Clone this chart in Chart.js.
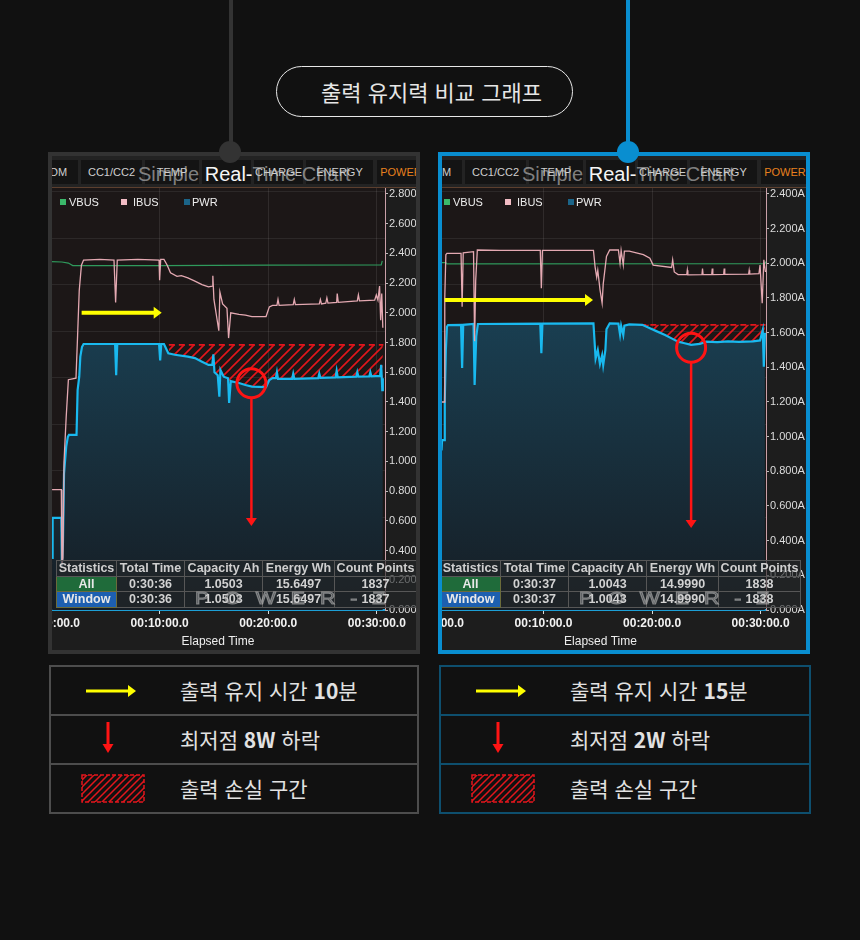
<!DOCTYPE html>
<html lang="ko"><head><meta charset="utf-8">
<script src="https://cdn.jsdelivr.net/npm/chart.js@4.4.1/dist/chart.umd.min.js"></script>
<style>
*{box-sizing:border-box}
html,body{margin:0;padding:0}
body{background:#111;width:860px;height:940px;position:relative;overflow:hidden;font-family:'Liberation Sans',Arial,sans-serif;}
.a{position:absolute}
.pill{left:276px;top:66px;width:297px;height:51px;border:1.5px solid #e8e8e8;border-radius:26px;color:#e6e6e6;font-family:'Noto Sans CJK KR',sans-serif;font-size:22px;line-height:48px;text-align:center;padding-left:14px;white-space:nowrap}
.vline{top:0;width:4px;height:152px}
.dot{width:22px;height:22px;border-radius:50%;top:141px;z-index:5}
.panel{top:152px;width:372px;height:502px;border-style:solid;border-width:4px}
.inner{position:absolute;left:0;top:0;right:0;bottom:0;overflow:hidden;background:#1d1d1d}
.tabbar{left:0;top:0;width:100%;height:32px;background:#232323;border-bottom:1px solid #5c3f2e}
.x0{top:0;height:100%;width:420px}
.tab{top:4px;height:24px;background:#141414;color:#cfcfcf;font-size:11px;line-height:24px;text-align:center;white-space:nowrap;overflow:visible}
.ttl{top:8px;font-size:20px;line-height:20px;white-space:nowrap;z-index:3}
.chartbox{left:0;top:32px;height:462px}
.lg{top:40px;height:12px;font-size:11px;line-height:12px;color:#eee;white-space:nowrap;z-index:3}
.sw{top:43px;width:6px;height:6px;z-index:3}
table.st{position:absolute;top:404px;border-collapse:collapse;z-index:3;table-layout:fixed}
table.st td{border:1px solid #575757;padding:0;font-weight:bold;font-size:12.5px;color:#d2d2d2;text-align:center;height:15.5px;line-height:14px;background:rgba(36,38,40,0.62);white-space:nowrap;overflow:hidden}
.wm{top:433px;font-size:17px;line-height:20px;letter-spacing:12px;color:rgba(170,170,170,0.28);-webkit-text-stroke:1px rgba(200,200,200,0.55);font-weight:normal;z-index:4;white-space:nowrap;transform:scaleX(1.25);transform-origin:left center}
.box{top:665px;height:149px;border-style:solid;border-width:2px}
.row{position:absolute;left:0;width:100%;height:47px}
.row .tx{position:absolute;left:129px;top:0;line-height:47px;font-family:'Noto Sans CJK KR',sans-serif;font-size:21px;color:#e2e2e2;white-space:nowrap}
.row .tx b{font-weight:700}
.row svg{position:absolute}
</style></head><body>

<div class="a vline" style="left:229px;background:#333"></div>
<div class="a dot" style="left:219px;background:#333"></div>
<div class="a vline" style="left:626px;background:#098ed0"></div>
<div class="a dot" style="left:617px;background:#098ed0"></div>

<div class="a pill">출력 유지력 비교 그래프</div>

<div class="a panel" style="left:48px;border-color:#333">
  <div class="inner">
    <div class="a tabbar"></div>
    <div class="a x0" id="x0L" style="left:-1px">
      <div class="a chartbox" style="width:365px"><canvas id="cL"></canvas></div>
    </div>
  </div>
</div>

<div class="a panel" style="left:438px;border-color:#098ed0">
  <div class="inner">
    <div class="a tabbar"></div>
    <div class="a x0" id="x0R" style="left:-7px">
      <div class="a chartbox" style="width:371px"><canvas id="cR"></canvas></div>
    </div>
  </div>
</div>

<div class="a box" id="boxL" style="left:49px;width:370px;border-color:#4d4d4d"></div>
<div class="a box" id="boxR" style="left:439px;width:372px;border-color:#0e4f6e"></div>

<script>
// ---------- axis ticks ----------
const xTickValues = [0, 10, 20, 30];
const xTickLabels = ['00:00:00.0', '00:10:00.0', '00:20:00.0', '00:30:00.0'];
const leftYTicks = [0, 0.2, 0.4, 0.6, 0.8, 1.0, 1.2, 1.4, 1.6, 1.8, 2.0, 2.2, 2.4, 2.6, 2.8];
const rightYTicks = [0, 0.2, 0.4, 0.6, 0.8, 1.0, 1.2, 1.4, 1.6, 1.8, 2.0, 2.2, 2.4];
const gridTicks = [5, 10, 15, 20, 25, 30, 35, 40, 45];
const seriesNames = ['VBUS', 'IBUS', 'PWR'];
const tabLabels = ['DM', 'CC1/CC2', 'TEMP', '', 'CHARGE', 'ENERGY', 'POWER'];
const statHeaders = ['Statistics', 'Total Time', 'Capacity Ah', 'Energy Wh', 'Count Points'];
const statRowNames = ['All', 'Window'];

// ---------- left chart series [minutes, value] ----------
const leftVBUS = [[0,2.345],[1.0,2.342],[1.6,2.335],[2.0,2.318],[10,2.318],[20,2.321],[30.4,2.322],[30.5,2.35]];
const leftIBUS = [[0.1,0.81],[0.95,0.81],[1.0,0.3],[1.1,0.35],[1.2,1.0],[1.4,1.3],[1.6,1.55],[2.3,1.56],[2.45,1.85],[2.6,2.15],[2.8,2.32],[3.0,2.355],[4.5,2.36],[5.8,2.355],[5.95,2.07],[6.1,2.355],[8,2.36],[9.95,2.355],[10.0,2.22],[10.1,2.36],[10.4,2.36],[10.7,2.32],[11.0,2.27],[11.6,2.245],[12.0,2.25],[12.6,2.235],[13.2,2.215],[13.9,2.19],[14.5,2.175],[14.85,2.18],[14.9,2.25],[15.0,2.09],[15.3,1.95],[15.45,1.88],[15.55,2.14],[15.8,2.06],[16.2,2.03],[16.35,1.83],[16.55,2.0],[17.3,1.99],[17.9,1.985],[18.5,1.975],[19.8,1.975],[20.1,2.04],[20.4,2.05],[20.8,2.05],[20.9,2.09],[21.0,2.05],[22.3,2.055],[22.4,2.09],[22.5,2.055],[24.7,2.06],[24.8,2.09],[24.9,2.06],[25.3,2.065],[25.4,2.1],[25.5,2.065],[26.3,2.07],[26.35,2.13],[26.45,2.07],[28.2,2.08],[28.3,2.12],[28.4,2.08],[29.8,2.085],[29.95,2.12],[30.1,2.085],[30.25,2.18],[30.35,1.95],[30.45,2.13],[30.55,1.9]];
const leftPWR = [[0.1,0.35],[0.15,0.62],[0.95,0.62],[1.0,0.3],[1.1,0.45],[1.2,0.92],[1.4,1.10],[1.55,1.165],[1.65,1.178],[2.35,1.178],[2.45,1.48],[2.6,1.57],[2.7,1.705],[2.85,1.77],[3.0,1.79],[5.9,1.79],[6.0,1.58],[6.1,1.79],[9.95,1.79],[10.05,1.68],[10.15,1.79],[10.4,1.79],[10.8,1.728],[11.4,1.718],[12.6,1.705],[13.25,1.695],[13.9,1.671],[14.5,1.649],[14.85,1.65],[14.95,1.72],[15.05,1.6],[15.35,1.58],[15.5,1.436],[15.6,1.615],[15.9,1.57],[16.3,1.56],[16.4,1.393],[16.55,1.54],[17.3,1.528],[17.9,1.514],[18.5,1.503],[19.8,1.5],[20.1,1.548],[20.4,1.561],[20.7,1.56],[20.8,1.6],[20.9,1.555],[22.2,1.555],[22.3,1.59],[22.4,1.556],[24.6,1.56],[24.7,1.59],[24.8,1.562],[26.2,1.565],[26.3,1.61],[26.4,1.566],[28.1,1.57],[28.2,1.6],[28.3,1.57],[29.3,1.572],[29.4,1.6],[29.5,1.573],[30.3,1.575],[30.4,1.65],[30.5,1.48],[30.55,1.56]];
const leftLoss = [[10.85,1.784],[30.6,1.784]];
const leftYellowArrow = [2.82, 10.19, 2.0];
const leftLowPoint = [18.45, 1.526];
const leftDropTip = 0.565;
const leftStats = [['0:30:36','1.0503','15.6497','1837'],['0:30:36','1.0503','15.6497','1837']];
const leftNotes = [['출력 유지 시간 ','10','분'],['최저점 ','8W',' 하락'],['출력 손실 구간','','']];

// ---------- right chart series ----------
const rightVBUS = [[0.55,2.004],[1.0,2.004],[1.1,1.997],[30.4,1.998],[30.5,2.01]];
const rightIBUS = [[0.6,1.2],[0.85,1.2],[0.9,1.8],[1.0,2.05],[1.1,2.058],[2.4,2.058],[2.5,1.75],[2.6,2.06],[3.55,2.067],[3.65,1.55],[3.75,1.9],[3.9,2.077],[6,2.075],[9.7,2.075],[9.8,1.856],[9.9,2.075],[14.6,2.075],[14.75,1.98],[14.9,1.92],[15.0,1.96],[15.2,1.85],[15.4,1.77],[15.5,1.88],[15.8,2.04],[16.1,2.077],[16.9,2.077],[17.05,2.0],[17.15,2.075],[17.35,1.99],[17.45,2.07],[17.9,2.07],[19.2,2.05],[19.8,2.03],[20.1,1.99],[21.8,1.976],[21.9,2.02],[22.05,1.95],[22.4,1.935],[23.2,1.935],[23.25,1.96],[23.3,1.933],[24.6,1.935],[24.65,1.97],[24.7,1.935],[25.5,1.935],[25.55,1.97],[25.6,1.935],[26.6,1.936],[26.65,1.97],[26.7,1.936],[28.9,1.938],[28.95,1.96],[29.0,1.938],[29.85,1.94],[29.95,1.99],[30.15,1.77],[30.3,2.02],[30.45,1.95]];
const rightPWR = [[0.6,0.92],[0.65,0.98],[0.85,0.98],[0.9,1.21],[1.0,1.5],[1.1,1.634],[1.2,1.644],[2.4,1.645],[2.5,1.396],[2.6,1.645],[3.55,1.65],[3.65,1.298],[3.8,1.577],[3.95,1.65],[9.7,1.652],[9.8,1.481],[9.9,1.652],[14.6,1.654],[14.8,1.45],[15.0,1.5],[15.2,1.42],[15.4,1.47],[15.5,1.413],[15.7,1.5],[15.8,1.62],[16.1,1.654],[16.9,1.652],[17.05,1.59],[17.15,1.64],[17.35,1.587],[17.45,1.64],[17.9,1.648],[19.1,1.645],[19.8,1.625],[20.5,1.606],[21.2,1.587],[21.8,1.567],[22.4,1.548],[23.0,1.539],[23.6,1.53],[24.4,1.535],[25.0,1.548],[26.0,1.545],[27.0,1.55],[28.0,1.547],[29.3,1.55],[29.95,1.555],[30.2,1.615],[30.3,1.404],[30.4,1.6]];
const rightLoss = [[18.0,1.645],[30.45,1.645]];
const rightYellowArrow = [0.89, 14.56, 1.788];
const rightLowPoint = [23.6, 1.513];
const rightDropTip = 0.473;
const rightStats = [['0:30:37','1.0043','14.9990','1838'],['0:30:37','1.0043','14.9990','1838']];
const rightNotes = [['출력 유지 시간 ','15','분'],['최저점 ','2W',' 하락'],['출력 손실 구간','','']];

// ---------- styles ----------
const FONT = "'Liberation Sans', Arial, sans-serif";
Chart.defaults.font.family = FONT;
const lineColors = ['#2f9a5c', '#e4a9b2', '#19b9ef'];
const swatchColors = ['#3bb86a', '#f2bcc4', '#1b6488'];

function pts(a){ return a.map(p => ({x: p[0], y: p[1]})); }

function makeHatch(){
  const c = document.createElement('canvas'); c.width = 10; c.height = 10;
  const g = c.getContext('2d');
  g.strokeStyle = '#e3161c'; g.lineWidth = 1.6;
  g.beginPath();
  g.moveTo(0,10); g.lineTo(10,0);
  g.moveTo(-2,2); g.lineTo(2,-2);
  g.moveTo(8,12); g.lineTo(12,8);
  g.stroke();
  return g.createPattern(c, 'repeat');
}
const hatch = makeHatch();

function pwrFill(ctx){
  const ch = ctx.chart, a = ch.chartArea;
  if (!a) return 'rgba(25,60,78,1)';
  const g = ch.ctx.createLinearGradient(0, a.top, 0, a.bottom);
  g.addColorStop(0, '#1b4e66');
  g.addColorStop(1, '#161d24');
  return g;
}

const plotBg = {
  id: 'plotBg',
  beforeDraw(chart){
    const {ctx, chartArea: a} = chart;
    ctx.save(); ctx.fillStyle = '#1c1717';
    ctx.fillRect(a.left, a.top, a.right - a.left, a.bottom - a.top);
    ctx.restore();
  }
};

const annot = {
  id: 'annot',
  afterDatasetsDraw(chart, args, o){
    const {ctx} = chart, x = chart.scales.x, y = chart.scales.y;
    ctx.save();
    const ax0 = x.getPixelForValue(o.arrow[0]), ax1 = x.getPixelForValue(o.arrow[1]), ay = y.getPixelForValue(o.arrow[2]);
    ctx.strokeStyle = '#ffff00'; ctx.fillStyle = '#ffff00'; ctx.lineWidth = 4;
    ctx.beginPath(); ctx.moveTo(ax0, ay); ctx.lineTo(ax1 - 6, ay); ctx.stroke();
    ctx.beginPath(); ctx.moveTo(ax1, ay); ctx.lineTo(ax1 - 8, ay - 6); ctx.lineTo(ax1 - 8, ay + 6); ctx.closePath(); ctx.fill();
    const cx = x.getPixelForValue(o.low[0]), cy = y.getPixelForValue(o.low[1]);
    const r = 14.5;
    ctx.strokeStyle = '#ff1414'; ctx.fillStyle = '#ff1414'; ctx.lineWidth = 3;
    ctx.beginPath(); ctx.arc(cx, cy, r, 0, Math.PI * 2); ctx.stroke();
    const tip = y.getPixelForValue(o.tip);
    ctx.lineWidth = 2.5;
    ctx.beginPath(); ctx.moveTo(cx, cy + r); ctx.lineTo(cx, tip - 6); ctx.stroke();
    ctx.beginPath(); ctx.moveTo(cx, tip); ctx.lineTo(cx - 5.5, tip - 8); ctx.lineTo(cx + 5.5, tip - 8); ctx.closePath(); ctx.fill();
    ctx.restore();
  }
};

function buildChart(id, cfg){
  return new Chart(document.getElementById(id), {
    type: 'line',
    data: { datasets: [
      {label: seriesNames[0], data: pts(cfg.vbus), borderColor: lineColors[0], borderWidth: 1.2, order: 2, fill: false},
      {label: seriesNames[1], data: pts(cfg.ibus), borderColor: lineColors[1], borderWidth: 1.3, order: 1, fill: false},
      {label: seriesNames[2], data: pts(cfg.pwr), borderColor: lineColors[2], borderWidth: 2.2, order: 3, fill: 'origin', backgroundColor: pwrFill},
      {label: 'loss', data: pts(cfg.loss), borderColor: '#e3161c', borderWidth: 1.6, borderDash: [6, 4], order: 4,
       fill: {target: 2, above: hatch, below: 'rgba(0,0,0,0)'}}
    ]},
    options: {
      animation: false, responsive: true, maintainAspectRatio: false,
      layout: {padding: 0},
      elements: {point: {radius: 0, hoverRadius: 0}, line: {tension: 0}},
      plugins: {legend: {display: false}, tooltip: {enabled: false},
        annot: {arrow: cfg.arrow, low: cfg.low, tip: cfg.tip}},
      scales: {
        x: {type: 'linear', position: 'bottom', min: 0, max: cfg.xMax, z: 1,
          afterBuildTicks: s => { s.ticks = xTickValues.map(v => ({value: v})); },
          ticks: {callback: (v, i) => xTickLabels[i], color: '#f2f2f2', font: {size: 12, weight: 'bold'}, padding: 2, maxRotation: 0, autoSkip: false},
          grid: {color: 'rgba(255,255,255,0.09)', tickLength: 4, tickColor: '#dddddd'},
          border: {display: true, color: '#1d9fd6', width: 2},
          title: {display: true, text: 'Elapsed Time', color: '#eeeeee', font: {size: 12}, padding: {top: 0, bottom: 1}},
          afterFit: s => { s.height = 40; s.paddingLeft = 0; s.paddingRight = 0; }
        },
        y: {type: 'linear', position: 'right', min: 0, max: cfg.yMax,
          afterBuildTicks: s => { s.ticks = cfg.yTicks.map(v => ({value: v})); },
          ticks: {callback: v => v.toFixed(3) + cfg.unit, color: '#dddddd', font: {size: 11}, padding: 1},
          grid: {drawOnChartArea: false, tickLength: 3, tickColor: '#bbbbbb'},
          border: {display: true, color: '#c9a0a8', width: 1},
          afterFit: s => { s.width = cfg.yW; s.paddingTop = 0; s.paddingBottom = 0; }
        },
        yg: {type: 'linear', position: 'left', min: 0, max: 45.4, z: 1,
          afterBuildTicks: s => { s.ticks = gridTicks.map(v => ({value: v})); },
          ticks: {display: false},
          grid: {color: 'rgba(255,255,255,0.075)', drawTicks: false},
          border: {display: false},
          afterFit: s => { s.width = 0; s.paddingTop = 0; s.paddingBottom = 0; }
        }
      }
    },
    plugins: [plotBg, annot]
  });
}

buildChart('cL', {vbus: leftVBUS, ibus: leftIBUS, pwr: leftPWR, loss: leftLoss, xMax: 30.75, yMax: 2.84,
  yTicks: leftYTicks, unit: '', yW: 31, arrow: leftYellowArrow, low: leftLowPoint, tip: leftDropTip});
buildChart('cR', {vbus: rightVBUS, ibus: rightIBUS, pwr: rightPWR, loss: rightLoss, xMax: 30.5, yMax: 2.4346,
  yTicks: rightYTicks, unit: 'A', yW: 40, arrow: rightYellowArrow, low: rightLowPoint, tip: rightDropTip});

// ---------- overlays (app screenshot chrome) ----------
const tabBoxes = [[-12,27],[30,91],[94,148],[151,200],[203,252],[255,322],[326,374]];
function el(tag, cls, style, html){
  const e = document.createElement(tag); if (cls) e.className = cls;
  if (style) e.setAttribute('style', style); if (html != null) e.innerHTML = html; return e;
}
function decorate(x0id, stats){
  const w = document.getElementById(x0id);
  tabBoxes.forEach((b, i) => {
    const t = el('div', 'a tab', `left:${b[0]}px;width:${b[1]-b[0]}px;${i === 6 ? 'color:#e8801e;' : ''}`, tabLabels[i]);
    w.appendChild(t);
  });
  w.appendChild(el('div', 'a ttl', 'left:87px',
    '<span style="color:rgba(200,200,200,0.62)">Simple </span><span style="color:#f6f6f6">Real-</span><span style="color:rgba(200,200,200,0.62)">Time Chart</span>'));
  const sx = [9, 70, 133], tx = [18, 82, 141];
  seriesNames.forEach((n, i) => {
    w.appendChild(el('div', 'a sw', `left:${sx[i]}px;background:${swatchColors[i]}`));
    w.appendChild(el('div', 'a lg', `left:${tx[i]}px`, n));
  });
  const widths = [60, 68, 78, 72, 82];
  const tb = el('table', 'st', 'left:5px;width:360px');
  const cg = el('colgroup'); widths.forEach(v => cg.appendChild(el('col', null, `width:${v}px`))); tb.appendChild(cg);
  const hr = el('tr'); statHeaders.forEach(h => hr.appendChild(el('td', null, 'color:#cfcfcf', h))); tb.appendChild(hr);
  statRowNames.forEach((n, r) => {
    const tr = el('tr');
    tr.appendChild(el('td', null, `background:${r === 0 ? '#1f6b3a' : '#1d5fb0'};color:#e8e8e8;border-color:#6b6b3a`, n));
    stats[r].forEach(v => tr.appendChild(el('td', null, null, v)));
    tb.appendChild(tr);
  });
  w.appendChild(tb);
  w.appendChild(el('div', 'a wm', 'left:144px', 'POWER-Z'));
}
decorate('x0L', leftStats);
decorate('x0R', rightStats);

// ---------- bottom legend boxes ----------
const iconYellow = '<svg width="50" height="14" style="left:35px;top:17px"><line x1="0" y1="7" x2="43" y2="7" stroke="#ffff00" stroke-width="3.2"/><polygon points="42,1 50,7 42,13" fill="#ffff00"/></svg>';
const iconRed = '<svg width="14" height="32" style="left:50px;top:6px"><line x1="7" y1="0" x2="7" y2="24" stroke="#ff1414" stroke-width="3"/><polygon points="1.5,22 12.5,22 7,31" fill="#ff1414"/></svg>';
const iconHatch = '<svg width="64" height="29" style="left:30px;top:9px"><defs><pattern id="hp" patternUnits="userSpaceOnUse" width="7" height="7"><path d="M-1.5,1.5 l3,-3 M0,7 l7,-7 M5.5,8.5 l3,-3" stroke="#e3161c" stroke-width="1.5"/></pattern></defs><rect x="1" y="1" width="62" height="27" fill="url(#hp)" stroke="#e3161c" stroke-width="1.5" stroke-dasharray="4,2"/></svg>';
const icons = [iconYellow, iconRed, iconHatch];
function buildBox(id, notes, lineColor){
  const b = document.getElementById(id);
  notes.forEach((n, i) => {
    const r = el('div', 'row', `top:${i * 49}px;${i < 2 ? 'border-bottom:2px solid ' + lineColor + ';height:49px' : ''}`);
    r.innerHTML = icons[i] + `<div class="tx">${n[0]}<b>${n[1]}</b>${n[2]}</div>`;
    b.appendChild(r);
  });
}
buildBox('boxL', leftNotes, '#4d4d4d');
buildBox('boxR', rightNotes, '#0e4f6e');
</script>
</body></html>
